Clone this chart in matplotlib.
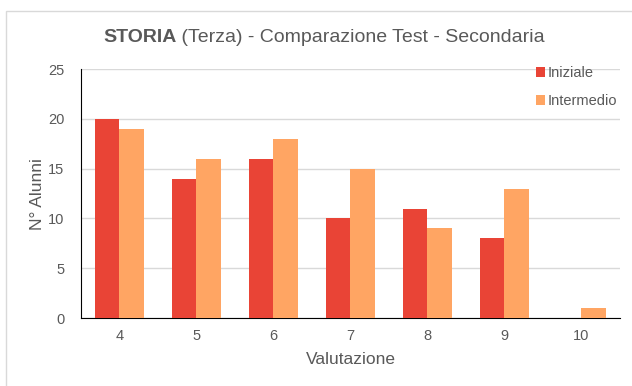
import matplotlib.pyplot as plt
import numpy as np
from matplotlib.patches import Rectangle

plt.rcParams['font.family'] = ['Liberation Sans', 'DejaVu Sans']

voti = ['4', '5', '6', '7', '8', '9', '10']
iniziale = [20, 14, 16, 10, 11, 8, 0]
intermedio = [19, 16, 18, 15, 9, 13, 1]

rosso = '#E94436'
arancio = '#FFA563'
grigio = '#595959'

fig = plt.figure(figsize=(6.32, 3.86), dpi=100)
ax = fig.add_axes([0.128, 0.176, 0.853, 0.645])

# cornice del grafico
fig.patches.append(Rectangle((6 / 632, -0.1), 1.2, 1 - 11 / 386 + 0.1,
                             transform=fig.transFigure, fill=False,
                             edgecolor='#D9D9D9', linewidth=1))

x = np.arange(len(voti))
w = 0.32
ax.bar(x - w / 2, iniziale, w, color=rosso, label='Iniziale', zorder=3)
ax.bar(x + w / 2, intermedio, w, color=arancio, label='Intermedio', zorder=3)

ax.set_xlim(-0.5, len(voti) - 0.5)
ax.set_ylim(0, 25)
ax.set_yticks(range(0, 26, 5))
ax.set_xticks(x)
ax.set_xticklabels(voti)
ax.yaxis.grid(True, color='#D9D9D9', linewidth=1, zorder=0)
ax.tick_params(length=0, labelsize=10.5, labelcolor=grigio)
ax.tick_params(axis='y', pad=12)
ax.tick_params(axis='x', pad=8)
for s in ['top', 'right']:
    ax.spines[s].set_visible(False)
ax.spines['left'].set_color('black')
ax.spines['bottom'].set_color('black')

ax.set_xlabel('Valutazione', fontsize=12.5, color=grigio, labelpad=6)
ax.set_ylabel('N° Alunni', fontsize=12.5, color=grigio, labelpad=2)

leg = ax.legend(loc='upper right', bbox_to_anchor=(1.005, 1.035), frameon=False,
                fontsize=10.5, handlelength=0.6, handleheight=0.6,
                handletextpad=0.15, labelspacing=0.95, borderaxespad=0)
for t in leg.get_texts():
    t.set_color(grigio)

# titolo: parte in grassetto + parte normale
t1 = fig.text(103 / 632, 1 - 37 / 386, 'STORIA', fontsize=14, fontweight='bold',
              color=grigio, va='center', ha='left')
fig.canvas.draw()
ax.annotate(' (Terza) - Comparazione Test - Secondaria', xy=(1, 0.5),
            xycoords=t1, va='center', ha='left', fontsize=14, color=grigio)

fig.savefig('out.png', dpi=100)
